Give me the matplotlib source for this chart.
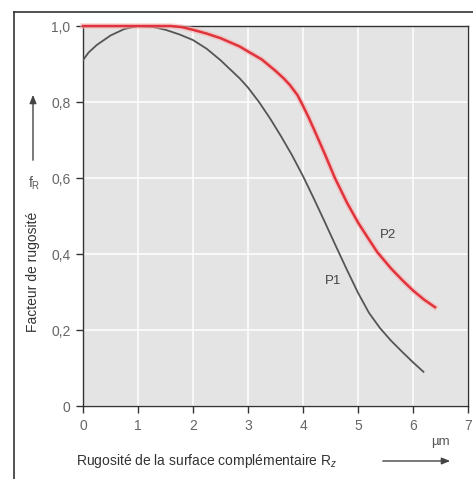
import matplotlib
matplotlib.use("Agg")
import matplotlib.pyplot as plt
from matplotlib.patches import FancyArrowPatch
from matplotlib.lines import Line2D

plt.rcParams['font.family'] = ['Liberation Sans', 'DejaVu Sans']
plt.rcParams['mathtext.fontset'] = 'custom'
plt.rcParams['mathtext.rm'] = 'Liberation Sans'
plt.rcParams['mathtext.it'] = 'Liberation Sans:italic'

# curve P1 (grey)
p1_x = [0, 0.1, 0.25, 0.5, 0.75, 1.0, 1.25, 1.5, 1.75, 2.0, 2.25, 2.5, 2.85,
        3.0, 3.2, 3.4, 3.6, 3.8, 4.0, 4.2, 4.4, 4.6, 4.8, 5.0, 5.2, 5.4,
        5.6, 5.8, 6.0, 6.19]
p1_y = [0.91, 0.93, 0.95, 0.975, 0.992, 1.0, 0.998, 0.99, 0.978, 0.963, 0.94,
        0.91, 0.862, 0.838, 0.80, 0.757, 0.71, 0.66, 0.605, 0.545, 0.483,
        0.42, 0.358, 0.298, 0.245, 0.205, 0.172, 0.143, 0.115, 0.09]

# curve P2 (red)
p2_x = [0, 1.0, 1.6, 1.8, 2.0, 2.25, 2.5, 2.85, 3.0, 3.25, 3.5, 3.65, 3.76,
        3.9, 4.0, 4.1, 4.2, 4.4, 4.58, 4.8, 5.0, 5.2, 5.35, 5.6, 5.8, 6.0,
        6.2, 6.4]
p2_y = [1.0, 1.0, 1.0, 0.997, 0.99, 0.98, 0.968, 0.946, 0.933, 0.912, 0.882,
        0.862, 0.845, 0.818, 0.79, 0.76, 0.728, 0.662, 0.60, 0.535, 0.483,
        0.438, 0.405, 0.362, 0.332, 0.304, 0.28, 0.26]

xticks = [0, 1, 2, 3, 4, 5, 6, 7]
yticks = [0, 0.2, 0.4, 0.6, 0.8, 1.0]
ytick_labels = ['0', '0,2', '0,4', '0,6', '0,8', '1,0']

W, H = 473, 479
fig = plt.figure(figsize=(W / 100, H / 100), dpi=100)
fig.patch.set_facecolor('white')


def fx(px):
    return px / W


def fy(py):
    return 1 - py / H


ax = fig.add_axes([fx(83), fy(406), fx(468) - fx(83), fy(26) - fy(406)])
ax.set_facecolor('#e4e4e4')
ax.set_xlim(0, 7)
ax.set_ylim(0, 1.0)
ax.set_xticks(xticks)
ax.set_xticklabels([str(t) for t in xticks])
ax.set_yticks(yticks)
ax.set_yticklabels(ytick_labels)
ax.grid(True, color='white', linewidth=1.1)
ax.set_axisbelow(True)
for s in ax.spines.values():
    s.set_color('#333333')
    s.set_linewidth(1.0)
ax.tick_params(direction='out', length=5, width=1, color='#333333',
               labelcolor='#666666', labelsize=10, pad=4)

ax.plot(p1_x, p1_y, color='#555555', lw=1.3, zorder=3,
        solid_joinstyle='round')
ax.plot(p2_x, p2_y, color='#f5b5b5', lw=4, alpha=0.6, zorder=3, clip_on=False,
        solid_joinstyle='round')
ax.plot(p2_x, p2_y, color='#e0343c', lw=1.8, zorder=4, clip_on=False,
        solid_joinstyle='round')

ax.text(4.55, 0.33, 'P1', color='#444444', fontsize=9.5, ha='center', va='center')
ax.text(5.55, 0.45, 'P2', color='#444444', fontsize=9.5, ha='center', va='center')

# outer frame (left and top)
fig.add_artist(Line2D([fx(14), fx(14)], [fy(12), 0], color='#333333', lw=1.2))
fig.add_artist(Line2D([fx(14), 1], [fy(12), fy(12)], color='#333333', lw=1.2))

# y axis title
fig.text(fx(33), fy(272), 'Facteur de rugosité', rotation=90, ha='center',
         va='center', fontsize=10, color='#333333')
fig.text(fx(34), fy(183), r'f$_{\mathrm{R}}$', ha='center', va='center',
         fontsize=10, color='#555555')
fig.add_artist(FancyArrowPatch((fx(33), fy(163)), (fx(33), fy(92)),
                               transform=fig.transFigure,
                               arrowstyle='-|>,head_length=5,head_width=2',
                               color='#444444', lw=1.0))

# x axis title
fig.text(fx(76), fy(461), r'Rugosité de la surface complémentaire R$_{z}$',
         ha='left', va='center', fontsize=10, color='#333333')
fig.text(fx(440), fy(442), 'µm', ha='center', va='center', fontsize=9.5,
         color='#555555')
fig.add_artist(FancyArrowPatch((fx(380), fy(461)), (fx(453), fy(461)),
                               transform=fig.transFigure,
                               arrowstyle='-|>,head_length=5,head_width=2',
                               color='#444444', lw=1.0))

fig.savefig('out.png', dpi=100)
